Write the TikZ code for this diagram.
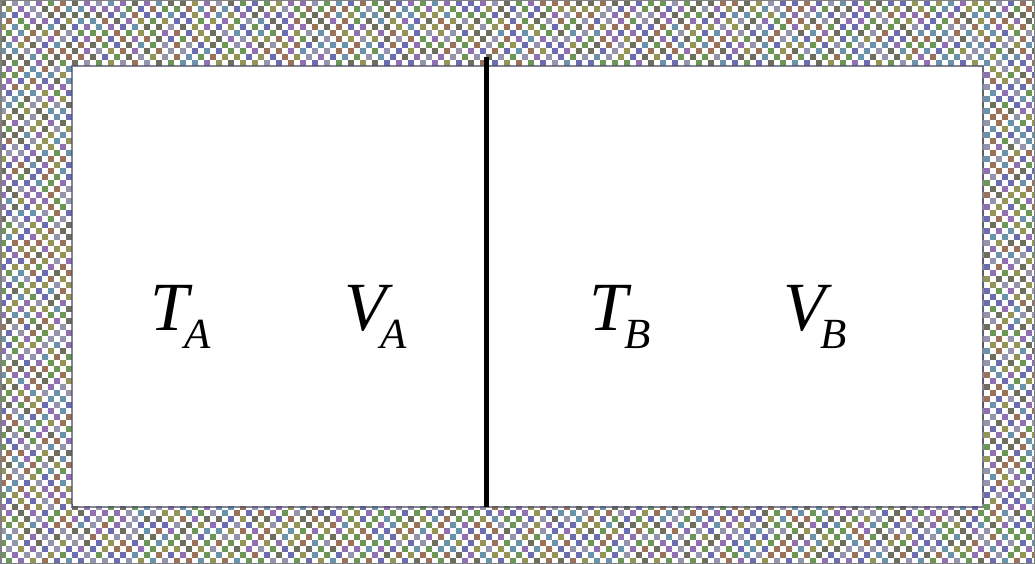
\documentclass[tikz,border=0pt]{standalone}
\usepackage{fontspec}
\setmainfont{Liberation Serif}
\definecolor{c1}{HTML}{9494AC}
\definecolor{c2}{HTML}{949456}
\definecolor{c3}{HTML}{9070B0}
\definecolor{c4}{HTML}{6E6E5E}
\definecolor{c5}{HTML}{6C6CB0}
\definecolor{c6}{HTML}{9A725A}
\definecolor{c7}{HTML}{6A92AA}
\definecolor{c8}{HTML}{6C9656}
\definecolor{inneredge}{HTML}{505068}
\newcommand\checkstrip[4]{%
  \foreach \i in {#1,...,#2}{%
    \foreach \j in {#3,...,#4}{%
      \pgfmathtruncatemacro\p{mod(\i+\j,2)}%
      \ifnum\p=0
        \pgfmathrandominteger{\c}{1}{8}%
        \fill[c\c] (\i*6,\j*6) rectangle ++(6,6);
      \fi
    }%
  }%
}
\tikzset{
  big/.style={anchor=base west, inner sep=0pt, scale=1.725, font=\fontsize{40}{40}\selectfont\itshape},
  small/.style={anchor=base west, inner sep=0pt, scale=1.075, font=\fontsize{40}{40}\selectfont\itshape},
  divider/.style={line width=5pt, black}
}
\begin{document}
\begin{tikzpicture}[x=1pt,y=-1pt]
\useasboundingbox (0,0) rectangle (1035,564);
\fill[white] (0,0) rectangle (1035,564);
\pgfmathsetseed{7}
\checkstrip{0}{172}{0}{10}
\checkstrip{0}{172}{84}{93}
\checkstrip{0}{11}{11}{83}
\checkstrip{163}{172}{11}{83}
\draw[gray, line width=1.5pt] (0.75,0.75) rectangle (1034.25,563.25);
\fill[white] (73,67) rectangle (982,506);
\draw[inneredge, line width=1.5pt, opacity=0.7] (72,66) rectangle (983,507);
\coordinate (dtop) at (486,57);
\coordinate (dbot) at (486,507);
\draw[divider] (dtop) -- (dbot);
\node[big] (ta) at (150,330) {T};
\node[small] (ta-sub) at (184,348) {A};
\node[big] (va) at (344,330) {V};
\node[small] (va-sub) at (380,348) {A};
\node[big] (tb) at (589,330) {T};
\node[small] (tb-sub) at (624,348) {B};
\node[big] (vb) at (783,330) {V};
\node[small] (vb-sub) at (820,348) {B};
\end{tikzpicture}
\end{document}
